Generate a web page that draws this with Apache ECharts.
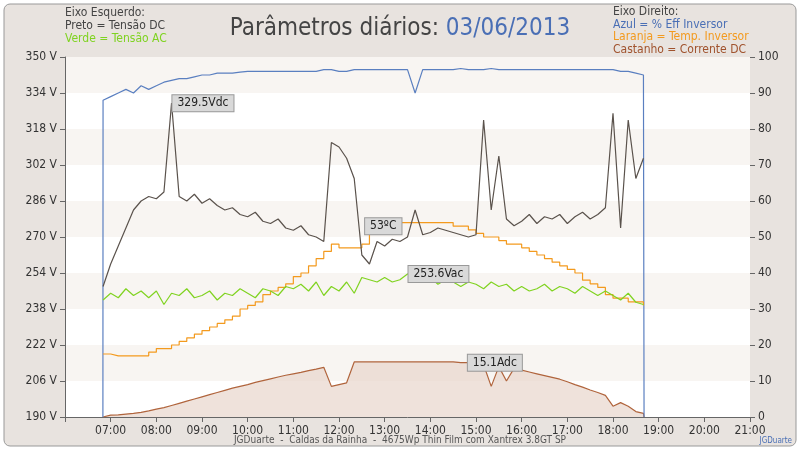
<!DOCTYPE html>
<html><head><meta charset="utf-8">
<script src="https://cdn.jsdelivr.net/npm/echarts@6/dist/echarts.min.js"></script>
<style>html,body{margin:0;padding:0;background:#fff}#c{width:800px;height:452px}</style>
</head><body><div id="c"></div>
<script>
const startHour = 6 + 50/60;
const dcVolt = [248,
258,266,274,282,286,288,
287,290,329.5,288,286,289,
285,287,284,282,283,280,
279,281,277,276,278,274,
273,275,271,270,268,312,
310,305,296,262,258,268,
266,269,268,270,282,271,
272,274,273,272,271,270,
271,322,282,306,278,275,
277,280,276,279,278,280,
276,279,281,278,280,283,
325,274,322,296,305];
const acVolt = [242,
245,243,247,244,246,243,
246,240,245,244,247,243,
244,246,242,245,244,247,
245,243,247,246,244,248,
247,249,246,250,244,248,
246,250,245,252,251,250,
252,250,251,253.6,252,251,
252,249,251,250,248,250,
249,247,250,248,249,246,
248,246,247,249,246,248,
247,245,248,246,244,246,
244,242,245,241,240];
const effInv = [88,
89,90,91,90,92,91,
92,93,93.5,94,94,94.5,
95,95,95.5,95.5,95.5,95.8,
96,96,96,96,96,96,
96,96,96,96,96.5,96.5,
96,96,96.5,96.5,96.5,96.5,
96.5,96.5,96.5,96.5,90,96.5,
96.5,96.5,96.5,96.5,96.8,96.5,
96.5,96.5,96.8,96.5,96.5,96.5,
96.5,96.5,96.5,96.5,96.5,96.5,
96.5,96.5,96.5,96.5,96.5,96.5,
96.5,96,96,95.5,95];
const tempInv = [17.5,
17,17,17,17,17,18,
19,19,20,21,22,23,
24,25,26,27,28,30,
31,32,34,35,36,37,
39,40,42,44,46,48,
47,47,47,48,52,53,
53,53,54,54,54,54,
54,54,54,53,53,52,
51,50,50,49,48,48,
47,46,45,44,43,42,
41,40,38,37,36,34,
33,33,32,32,31];
const dcCurrent = [0.3,
0.5,0.6,0.8,1,1.3,1.7,
2.2,2.6,3.2,3.8,4.4,5,
5.6,6.2,6.8,7.4,8,8.5,
9,9.6,10.1,10.6,11.1,11.6,
12,12.4,12.9,13.3,13.8,8.5,
9,9.5,15.3,15.3,15.3,15.3,
15.3,15.3,15.3,15.3,15.3,15.3,
15.3,15.3,15.3,15.3,15.1,15.1,
14.8,14.5,8.5,14,10,13.5,
13,12.5,12,11.5,11,10.5,
9.8,9,8.3,7.5,6.8,6,
3,4,3,1.5,1];
const effEdges = [[6.83,0],[18.68,0]];
const labelsPts = {dc:[8.33,329.5,'329.5Vdc'], ac:[13.5,253.6,'253.6Vac'], temp:[12.55,53,'53ºC'], cur:[14.8,15.1,'15.1Adc']};

const T = i => startHour + i/6;
const pairs = arr => arr.map((v,i)=>[T(i),v]);
const fmtH = v => (v<10?'0':'')+Math.round(v)+':00';
const fc = 'DejaVu Sans Condensed';
function mp(p){
  return {symbol:'circle', symbolSize:0, data:[{coord:[p[0],p[1]], value:p[2]}],
    label:{show:true, formatter:p[2], position:'right', offset:[-4,0], color:'#222', fontSize:12, fontFamily:fc,
      backgroundColor:'#d9d9d9', borderColor:'#999', borderWidth:1, padding:[2,5]}};
}
const chart = echarts.init(document.getElementById('c'));
chart.setOption({
  animation:false,
  textStyle:{fontFamily:fc},
  graphic:[
    {type:'rect', z:-10, shape:{x:4,y:4,width:792,height:442,r:6}, style:{fill:'#e8e3df', stroke:'#999', lineWidth:1}},
    {type:'text', left:'center', top:17, style:{text:'{a|Parâmetros diários: }{b|03/06/2013}', rich:{a:{fontSize:24,fill:'#444',fontFamily:fc},b:{fontSize:24,fill:'#4a6fb5',fontFamily:fc}}}},
    {type:'text', left:65, top:6, style:{text:'Eixo Esquerdo:\nPreto = Tensão DC\n{g|Verde = Tensão AC}', fill:'#444', fontSize:12, lineHeight:13, fontFamily:fc, rich:{g:{fill:'#7fd321',fontSize:12,fontFamily:fc}}}},
    {type:'text', left:613, top:6, style:{text:'Eixo Direito:\n{b|Azul = % Eff Inversor}\n{o|Laranja = Temp. Inversor}\n{c|Castanho = Corrente DC}', fill:'#444', fontSize:12, lineHeight:12.5, fontFamily:fc, rich:{b:{fill:'#4a6fb5',fontSize:12,fontFamily:fc},o:{fill:'#f39a1e',fontSize:12,fontFamily:fc},c:{fill:'#a0522d',fontSize:12,fontFamily:fc}}}},
    {type:'text', left:'center', top:435, style:{text:'JGDuarte  -  Caldas da Rainha  -  4675Wp Thin Film com Xantrex 3.8GT SP', fill:'#555', fontSize:10, fontFamily:fc}},
    {type:'text', right:8, top:437, style:{text:'JGDuarte', fill:'#4a6fb5', fontSize:8, fontFamily:fc}}
  ],
  grid:{left:65, right:50, top:57, bottom:35, show:true, backgroundColor:'#fff', borderWidth:0},
  xAxis:{type:'value', min:6, max:21, interval:1,
    axisLine:{show:true, lineStyle:{color:'#666'}}, axisTick:{show:true, lineStyle:{color:'#666'}},
    splitLine:{show:false},
    axisLabel:{color:'#333', fontSize:12, fontFamily:fc, formatter:v=> v===6?'':fmtH(v)}},
  yAxis:[
    {type:'value', min:190, max:350, interval:16, position:'left',
      axisLine:{show:true, lineStyle:{color:'#666'}}, axisTick:{show:true, lineStyle:{color:'#666'}},
      splitLine:{show:false}, splitArea:{show:true, areaStyle:{color:['#ffffff','#f8f5f2']}},
      axisLabel:{color:'#333', fontSize:12, fontFamily:fc, formatter:v=>v+' V'}},
    {type:'value', min:0, max:100, interval:10, position:'right',
      axisLine:{show:false}, axisTick:{show:true, lineStyle:{color:'#666'}},
      splitLine:{show:false}, axisLabel:{color:'#333', fontSize:12, fontFamily:fc}}
  ],
  series:[
    {name:'cur', type:'line', yAxisIndex:1, showSymbol:false, data:[[6.83,0]].concat(pairs(dcCurrent), [[18.68,0]]),
      lineStyle:{color:'#b0643c', width:1.2}, areaStyle:{color:'#e8d5cc'}, markPoint:mp(labelsPts.cur)},
    {name:'eff', type:'line', yAxisIndex:1, showSymbol:false, data:[effEdges[0]].concat(pairs(effInv), [effEdges[1]]),
      lineStyle:{color:'#5a7fc0', width:1.2}},
    {name:'temp', type:'line', yAxisIndex:1, step:'end', showSymbol:false, data:pairs(tempInv),
      lineStyle:{color:'#f39a1e', width:1.2}, markPoint:mp(labelsPts.temp)},
    {name:'ac', type:'line', yAxisIndex:0, showSymbol:false, data:pairs(acVolt),
      lineStyle:{color:'#80d321', width:1.2}, markPoint:mp(labelsPts.ac)},
    {name:'dc', type:'line', yAxisIndex:0, showSymbol:false, data:pairs(dcVolt),
      lineStyle:{color:'#5a524c', width:1.2}, markPoint:mp(labelsPts.dc)}
  ]
});
</script></body></html>
